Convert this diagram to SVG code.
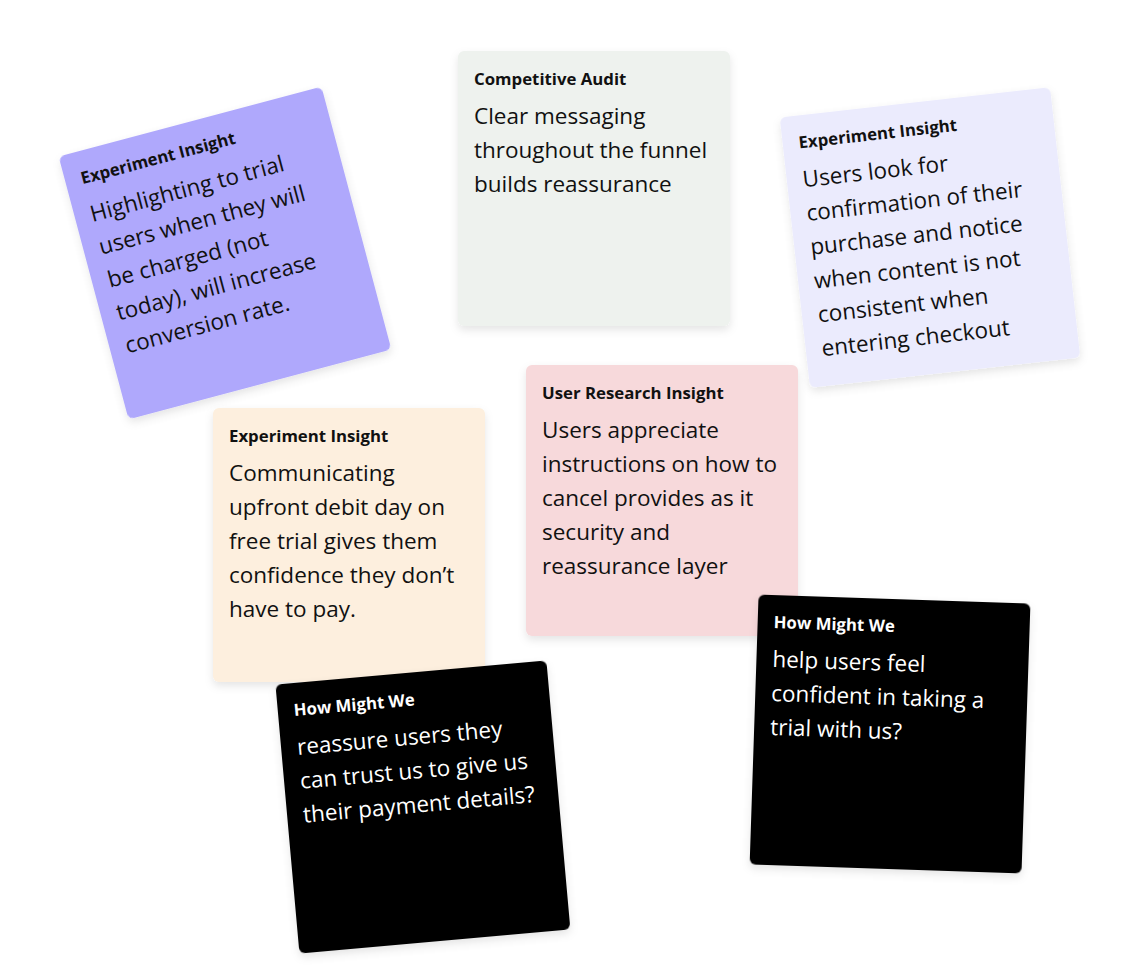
<svg xmlns="http://www.w3.org/2000/svg" width="1142" height="968" viewBox="0 0 1142 968">
<defs>
<filter id="sh" x="-20%" y="-20%" width="140%" height="140%">
<feDropShadow dx="0" dy="4" stdDeviation="4" flood-color="#000" flood-opacity="0.10"/>
</filter>
</defs>
<style>
.card{filter:url(#sh)}
.t{font-family:"Open Sans","Liberation Sans",sans-serif;font-weight:700;font-size:16.8px;fill:#111}
.b{font-family:"Open Sans","Liberation Sans",sans-serif;font-size:22.5px;fill:#111}
.w{fill:#fff}
</style>
<rect width="1142" height="968" fill="#fff"/>
<g id="connectors"/>
<g id="card-purple" transform="translate(225,253) rotate(-14.9)">
<rect class="card" x="-136" y="-136" width="272" height="272" rx="6" fill="#AFA8FC"/>
<text class="t" x="-120" y="-103">Experiment Insight</text>
<text class="b" x="-120" y="-64">Highlighting to trial</text>
<text class="b" x="-120" y="-30">users when they will</text>
<text class="b" x="-120" y="4">be charged (not</text>
<text class="b" x="-120" y="38">today), will increase</text>
<text class="b" x="-120" y="72">conversion rate.</text>
</g>
<g id="card-green" transform="translate(594,188.5)">
<rect class="card" x="-136" y="-137.5" width="272" height="275" rx="6" fill="#EEF2EE"/>
<text class="t" x="-120" y="-104">Competitive Audit</text>
<text class="b" x="-120" y="-65">Clear messaging</text>
<text class="b" x="-120" y="-31">throughout the funnel</text>
<text class="b" x="-120" y="3">builds reassurance</text>
</g>
<g id="card-lavender" transform="translate(930,237.5) rotate(-6.4)">
<rect class="card" x="-136" y="-136" width="272" height="272" rx="6" fill="#EBEBFD"/>
<text class="t" x="-120" y="-103">Experiment Insight</text>
<text class="b" x="-120" y="-64">Users look for</text>
<text class="b" x="-120" y="-30">confirmation of their</text>
<text class="b" x="-120" y="4">purchase and notice</text>
<text class="b" x="-120" y="38">when content is not</text>
<text class="b" x="-120" y="72">consistent when</text>
<text class="b" x="-120" y="106">entering checkout</text>
</g>
<g id="card-peach" transform="translate(349,545)">
<rect class="card" x="-136" y="-137" width="272" height="274" rx="6" fill="#FDEFDE"/>
<text class="t" x="-120" y="-103">Experiment Insight</text>
<text class="b" x="-120" y="-64">Communicating</text>
<text class="b" x="-120" y="-30">upfront debit day on</text>
<text class="b" x="-120" y="4">free trial gives them</text>
<text class="b" x="-120" y="38">confidence they don’t</text>
<text class="b" x="-120" y="72">have to pay.</text>
</g>
<g id="card-pink" transform="translate(662,500.5)">
<rect class="card" x="-136" y="-135.5" width="272" height="271" rx="6" fill="#F7D9DB"/>
<text class="t" x="-120" y="-102">User Research Insight</text>
<text class="b" x="-120" y="-63">Users appreciate</text>
<text class="b" x="-120" y="-29">instructions on how to</text>
<text class="b" x="-120" y="5">cancel provides as it</text>
<text class="b" x="-120" y="39">security and</text>
<text class="b" x="-120" y="73">reassurance layer</text>
</g>
<g id="card-black-left" transform="translate(423,808) rotate(-5.1)">
<rect class="card" x="-136" y="-136" width="272" height="270" rx="6" fill="#000"/>
<text class="t w" x="-120" y="-103">How Might We</text>
<text class="b w" x="-120" y="-64">reassure users they</text>
<text class="b w" x="-120" y="-30">can trust us to give us</text>
<text class="b w" x="-120" y="4">their payment details?</text>
</g>
<g id="card-black-right" transform="translate(890,735) rotate(1.9)">
<rect class="card" x="-136" y="-136" width="272" height="270" rx="6" fill="#000"/>
<text class="t w" x="-120" y="-103">How Might We</text>
<text class="b w" x="-120" y="-64">help users feel</text>
<text class="b w" x="-120" y="-30">confident in taking a</text>
<text class="b w" x="-120" y="4">trial with us?</text>
</g>
</svg>
